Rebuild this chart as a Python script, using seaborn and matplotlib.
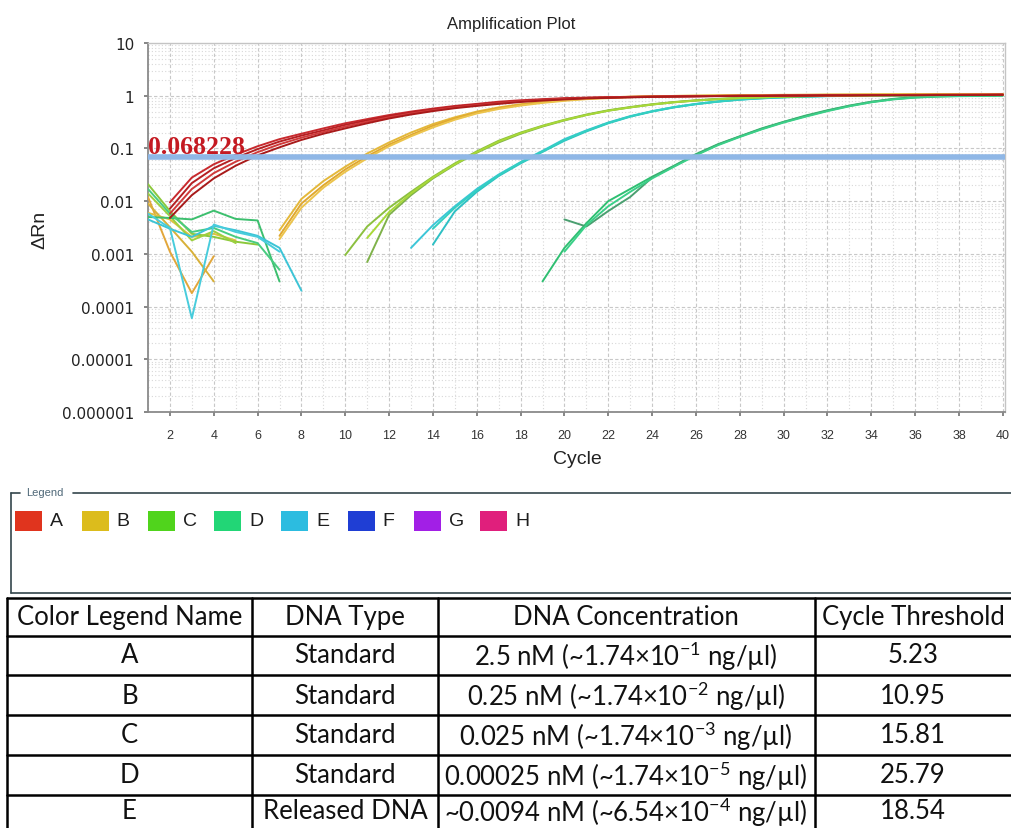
import numpy as np
import pandas as pd
import matplotlib
matplotlib.use("Agg")
import matplotlib.pyplot as plt
import seaborn as sns
from matplotlib.lines import Line2D
from matplotlib.patches import Rectangle
from matplotlib.ticker import LogLocator, FixedLocator, NullFormatter

# ---------------- data ----------------
THRESHOLD = 0.068228
X_TICKS = list(range(2, 41, 2))
Y_TICKS = [1e-6, 1e-5, 1e-4, 1e-3, 1e-2, 1e-1, 1, 10]
Y_TICK_LABELS = ["0.000001", "0.00001", "0.0001", "0.001", "0.01", "0.1", "1", "10"]

# amplification curves (first value is at the start cycle)
A1_START, A1 = 2, [0.0095, 0.028, 0.05, 0.076, 0.11, 0.15, 0.19, 0.24, 0.3, 0.36, 0.43, 0.5, 0.57, 0.64, 0.7,
                   0.77, 0.82, 0.86, 0.9, 0.92, 0.94, 0.95, 0.96, 0.97, 0.98, 0.99, 1.0, 1.0, 1.01, 1.02, 1.02,
                   1.03, 1.03, 1.03, 1.04, 1.04, 1.04, 1.05, 1.05]
A2_START, A2 = 2, [0.0072, 0.022, 0.042, 0.066, 0.097, 0.135, 0.175, 0.22, 0.28, 0.34, 0.41, 0.48, 0.55, 0.62,
                   0.68, 0.74, 0.79, 0.84, 0.88, 0.91, 0.93, 0.95, 0.96, 0.97, 0.98, 0.99, 1.0, 1.0, 1.01, 1.01,
                   1.02, 1.02, 1.03, 1.03, 1.03, 1.04, 1.04, 1.04, 1.05]
A3_START, A3 = 2, [0.0058, 0.017, 0.034, 0.056, 0.085, 0.12, 0.16, 0.205, 0.26, 0.32, 0.39, 0.46, 0.53, 0.6,
                   0.66, 0.72, 0.78, 0.83, 0.87, 0.9, 0.92, 0.94, 0.96, 0.97, 0.98, 0.99, 0.99, 1.0, 1.0, 1.01,
                   1.01, 1.02, 1.02, 1.03, 1.03, 1.03, 1.04, 1.04, 1.04]
A4_START, A4 = 2, [0.0048, 0.013, 0.027, 0.047, 0.074, 0.105, 0.145, 0.19, 0.24, 0.3, 0.37, 0.44, 0.51, 0.58,
                   0.64, 0.7, 0.76, 0.81, 0.85, 0.89, 0.91, 0.93, 0.95, 0.96, 0.97, 0.98, 0.99, 0.99, 1.0, 1.0,
                   1.01, 1.01, 1.02, 1.02, 1.02, 1.03, 1.03, 1.03, 1.04]
B1_START, B1 = 7, [0.0028, 0.011, 0.024, 0.045, 0.08, 0.13, 0.2, 0.29, 0.39, 0.5, 0.6, 0.69, 0.77, 0.84, 0.89,
                   0.93, 0.96, 0.98, 0.99, 1.0, 1.01, 1.02, 1.03, 1.04, 1.04, 1.05, 1.05, 1.06, 1.06, 1.07,
                   1.07, 1.08, 1.08, 1.08]
B2_START, B2 = 7, [0.0022, 0.009, 0.02, 0.04, 0.071, 0.118, 0.18, 0.27, 0.37, 0.48, 0.58, 0.67, 0.75, 0.82,
                   0.88, 0.92, 0.95, 0.97, 0.99, 1.0, 1.01, 1.02, 1.02, 1.03, 1.04, 1.04, 1.05, 1.05, 1.06,
                   1.06, 1.07, 1.07, 1.07, 1.08]
B3_START, B3 = 7, [0.0019, 0.0075, 0.018, 0.036, 0.065, 0.11, 0.17, 0.25, 0.35, 0.46, 0.56, 0.65, 0.73, 0.8,
                   0.86, 0.9, 0.94, 0.96, 0.98, 0.99, 1.0, 1.01, 1.02, 1.02, 1.03, 1.04, 1.04, 1.05, 1.05,
                   1.06, 1.06, 1.06, 1.07, 1.07]
C1_START, C1 = 10, [0.00095, 0.0033, 0.0075, 0.015, 0.029, 0.052, 0.088, 0.14, 0.2, 0.27, 0.35, 0.44, 0.53,
                    0.61, 0.69, 0.76, 0.82, 0.87, 0.91, 0.94, 0.97, 0.99, 1.0, 1.01, 1.02, 1.03, 1.03, 1.04,
                    1.04, 1.05, 1.05]
C2_START, C2 = 11, [0.0007, 0.0055, 0.013, 0.027, 0.049, 0.083, 0.13, 0.19, 0.26, 0.34, 0.43, 0.52, 0.6, 0.68,
                    0.75, 0.81, 0.86, 0.9, 0.93, 0.96, 0.98, 0.99, 1.0, 1.01, 1.02, 1.02, 1.03, 1.03, 1.04, 1.04]
C3_START, C3 = 11, [0.002, 0.0062, 0.014, 0.028, 0.05, 0.085, 0.135, 0.195, 0.265, 0.345, 0.43, 0.52, 0.6,
                    0.68, 0.75, 0.81, 0.86, 0.9, 0.93, 0.96, 0.98, 0.99, 1.0, 1.01, 1.01, 1.02, 1.02, 1.03,
                    1.03, 1.03]
D1_START, D1 = 19, [0.0003, 0.0013, 0.0038, 0.01, 0.017, 0.029, 0.047, 0.078, 0.12, 0.17, 0.24, 0.32, 0.42,
                    0.53, 0.65, 0.77, 0.87, 0.94, 0.98, 1.0, 1.01, 1.02]
D2_START, D2 = 20, [0.0045, 0.0033, 0.0065, 0.012, 0.028, 0.046, 0.076, 0.118, 0.168, 0.235, 0.315, 0.41,
                    0.52, 0.64, 0.76, 0.86, 0.93, 0.97, 0.99, 1.0, 1.01]
D3_START, D3 = 20, [0.0011, 0.0035, 0.008, 0.015, 0.027, 0.045, 0.074, 0.115, 0.165, 0.23, 0.31, 0.4, 0.51,
                    0.63, 0.75, 0.85, 0.92, 0.96, 0.98, 0.99, 1.0]
E1_START, E1 = 13, [0.0013, 0.0035, 0.008, 0.017, 0.032, 0.055, 0.09, 0.15, 0.22, 0.31, 0.41, 0.51, 0.61,
                    0.7, 0.78, 0.85, 0.9, 0.94, 0.97, 0.99, 1.0, 1.01, 1.02, 1.02, 1.03, 1.03, 1.04, 1.04]
E2_START, E2 = 14, [0.0015, 0.0064, 0.015, 0.03, 0.052, 0.086, 0.14, 0.21, 0.3, 0.4, 0.5, 0.6, 0.69, 0.77,
                    0.84, 0.89, 0.93, 0.96, 0.98, 0.99, 1.0, 1.01, 1.02, 1.02, 1.03, 1.03, 1.04]
E3_START, E3 = 14, [0.003, 0.0075, 0.016, 0.031, 0.054, 0.088, 0.145, 0.215, 0.305, 0.405, 0.505, 0.605,
                    0.695, 0.775, 0.845, 0.895, 0.935, 0.965, 0.985, 0.995, 1.0, 1.01, 1.01, 1.02, 1.02, 1.03,
                    1.03]

# early-cycle baseline noise (start at cycle 1)
NB1 = [0.012, 0.0011, 0.00018, 0.0009]
NB2 = [0.009, 0.0032, 0.0011, 0.0003]
NB3 = [0.006, 0.0045, 0.0021, 0.0024, 0.0018]
NC1 = [0.021, 0.0065, 0.0024, 0.0021, 0.0017, 0.0015]
NC2 = [0.014, 0.0052, 0.0018, 0.0027, 0.0016]
ND1 = [0.005, 0.0048, 0.0045, 0.0066, 0.0046, 0.0043, 0.0003]
ND2 = [0.017, 0.0058, 0.0026, 0.0031, 0.0021, 0.0016, 0.0005]
NE1 = [0.0045, 0.003, 0.0021, 0.0034, 0.0028, 0.0022, 0.0013, 0.0002]
NE2 = [0.0058, 0.0031, 0.00006, 0.0036, 0.0026, 0.0021, 0.0011]

LEGEND_NAMES = ["A", "B", "C", "D", "E", "F", "G", "H"]

TABLE_HEADER = ["Color Legend Name", "DNA Type", "DNA Concentration", "Cycle Threshold"]
COLOR_NAMES = ["A", "B", "C", "D", "E"]
DNA_TYPES = ["Standard", "Standard", "Standard", "Standard", "Released DNA"]
DNA_CONC = [
    r"2.5 nM (~1.74×10$^{\mathdefault{-1}}$ ng/µl)",
    r"0.25 nM (~1.74×10$^{\mathdefault{-2}}$ ng/µl)",
    r"0.025 nM (~1.74×10$^{\mathdefault{-3}}$ ng/µl)",
    r"0.00025 nM (~1.74×10$^{\mathdefault{-5}}$ ng/µl)",
    r"~0.0094 nM (~6.54×10$^{\mathdefault{-4}}$ ng/µl)",
]
CT_VALUES = ["5.23", "10.95", "15.81", "25.79", "18.54"]

# ---------------- styles ----------------
TRACES = [
    ("NB1", 1, NB1, "#e2a63a"), ("NB2", 1, NB2, "#d8b038"), ("NB3", 1, NB3, "#e0c040"),
    ("NC1", 1, NC1, "#8cc83c"), ("NC2", 1, NC2, "#9cd040"),
    ("ND1", 1, ND1, "#3cbf6e"), ("ND2", 1, ND2, "#48cc80"),
    ("NE1", 1, NE1, "#3cc4d6"), ("NE2", 1, NE2, "#48ccdc"),
    ("D1", D1_START, D1, "#2fbf72"), ("D2", D2_START, D2, "#4a9f70"), ("D3", D3_START, D3, "#3ad088"),
    ("E1", E1_START, E1, "#3cc6d8"), ("E2", E2_START, E2, "#2ec0c4"), ("E3", E3_START, E3, "#34d0c0"),
    ("C1", C1_START, C1, "#8cc040"), ("C2", C2_START, C2, "#7fb24a"), ("C3", C3_START, C3, "#a8d838"),
    ("B1", B1_START, B1, "#e4b83a"), ("B2", B2_START, B2, "#e0a830"), ("B3", B3_START, B3, "#ecc44c"),
    ("A1", A1_START, A1, "#c82a2e"), ("A2", A2_START, A2, "#b51f22"), ("A3", A3_START, A3, "#d03a3a"),
    ("A4", A4_START, A4, "#a81a1a"),
]
LEGEND_COLORS = ["#e0341e", "#dcbc1c", "#50d41c", "#22d676", "#2cbce0", "#1f3ed4", "#a21fe6", "#e01f7c"]

W, H = 1012, 829


def fx(px):
    return px / W


def fy(py):
    return 1 - py / H


sns.set_theme(style="white")
plt.rcParams["font.family"] = ["Liberation Sans", "DejaVu Sans"]

fig = plt.figure(figsize=(W / 100, H / 100), dpi=100)
fig.patch.set_facecolor("white")

ax = fig.add_axes([fx(148), fy(413), fx(1005) - fx(148), fy(44) - fy(413)])
ax.set_yscale("log")

rows = []
for name, start, vals, _c in TRACES:
    for i, v in enumerate(vals):
        rows.append((name, start + i, v))
df = pd.DataFrame(rows, columns=["trace", "cycle", "drn"])
palette = {name: c for name, _s, _v, c in TRACES}
order = [t[0] for t in TRACES]
sns.lineplot(data=df, x="cycle", y="drn", hue="trace", hue_order=order, palette=palette,
             estimator=None, sort=False, legend=False, lw=1.4, ax=ax, zorder=3)

ax.axhline(THRESHOLD, color="#8fb7e6", lw=4.0, zorder=4)
ax.text(1.0, THRESHOLD * 1.2, f"{THRESHOLD:g}", color="#c41a22", fontsize=18.5,
        family=["Liberation Serif", "DejaVu Serif"], fontweight="bold", ha="left", va="baseline", zorder=5)

ax.set_xlim(1, 40.1)
ax.set_ylim(1e-6, 10)
ax.set_xticks(X_TICKS)
ax.set_xticklabels([str(t) for t in X_TICKS], family=["Liberation Sans Narrow", "Liberation Sans"],
                   fontsize=9, color="#333333")
ax.xaxis.set_minor_locator(FixedLocator(list(range(1, 41, 2))))
ax.set_yticks(Y_TICKS)
ax.set_yticklabels(Y_TICK_LABELS, family="DejaVu Sans", fontsize=11, color="#222222")
ax.yaxis.set_minor_locator(LogLocator(base=10, subs=np.arange(2, 10)))
ax.yaxis.set_minor_formatter(NullFormatter())
ax.tick_params(axis="x", which="major", length=3, color="#777777", pad=9, bottom=True)
ax.tick_params(axis="y", which="major", length=3, color="#777777", pad=7, left=True)
ax.tick_params(which="minor", length=0)
ax.grid(which="major", color="#c8c8c8", ls=(0, (3, 2)), lw=0.8)
ax.grid(which="minor", color="#d8d8d8", ls=(0, (1, 2)), lw=0.8)
ax.set_axisbelow(True)
for s in ["left", "bottom"]:
    ax.spines[s].set_color("#8a8a8a")
    ax.spines[s].set_linewidth(1.3)
for s in ["top", "right"]:
    ax.spines[s].set_color("#c4c4c4")
    ax.spines[s].set_linewidth(1.0)
ax.set_xlabel("")
ax.set_ylabel("")

fig.text(fx(511), fy(25), "Amplification Plot", ha="center", va="center", fontsize=12, color="#222222")
fig.text(fx(577), fy(460), "Cycle", ha="center", va="center", fontsize=14, color="#222222")
fig.text(fx(40), fy(230), "ΔRn", ha="center", va="center", fontsize=14, rotation=90, color="#222222")

# ---------------- legend box ----------------
lc = "#34464c"
for (x0, y0, x1, y1) in [(11, 494, 20, 494), (73, 494, 1012, 494), (11, 494, 11, 594), (11, 594, 1012, 594)]:
    fig.add_artist(Line2D([fx(x0), fx(x1)], [fy(y0), fy(y1)], color=lc, lw=1.2, transform=fig.transFigure))
fig.text(fx(26), fy(493), "Legend", fontsize=8, color="#4f6878", ha="left", va="center",
         family=["Liberation Sans Narrow", "Liberation Sans"])
for i, (nm, col) in enumerate(zip(LEGEND_NAMES, LEGEND_COLORS)):
    x0 = 15 + i * 66.5
    fig.add_artist(Rectangle((fx(x0), fy(532)), fx(27), 20 / H, facecolor=col, edgecolor="none",
                             transform=fig.transFigure))
    fig.text(fx(x0 + 35), fy(522), nm, fontsize=14, color="#1e1e1e", ha="left", va="center")

# ---------------- table ----------------
tfam = ["Lato", "DejaVu Sans"]
row_lines = [599, 637, 676, 716, 756, 796]
col_lines = [7, 252, 438, 815]
for y in row_lines:
    fig.add_artist(Line2D([fx(7), fx(1012)], [fy(y), fy(y)], color="black", lw=1.8, transform=fig.transFigure))
for x in col_lines:
    fig.add_artist(Line2D([fx(x), fx(x)], [fy(599), fy(829)], color="black", lw=1.8, transform=fig.transFigure))
col_centers = [129.5, 345, 626, 913]
row_centers = [618, 656, 696, 736, 776, 812]
for j, h in enumerate(TABLE_HEADER):
    fig.text(fx(col_centers[j]), fy(row_centers[0]), h, ha="center", va="center", fontsize=18.5,
             family=tfam, color="#111111")
for i in range(len(COLOR_NAMES)):
    vals = [COLOR_NAMES[i], DNA_TYPES[i], DNA_CONC[i], CT_VALUES[i]]
    for j, v in enumerate(vals):
        fig.text(fx(col_centers[j]), fy(row_centers[i + 1]), v, ha="center", va="center", fontsize=18.5,
                 family=tfam, color="#111111")

fig.savefig("out.png", dpi=100)
